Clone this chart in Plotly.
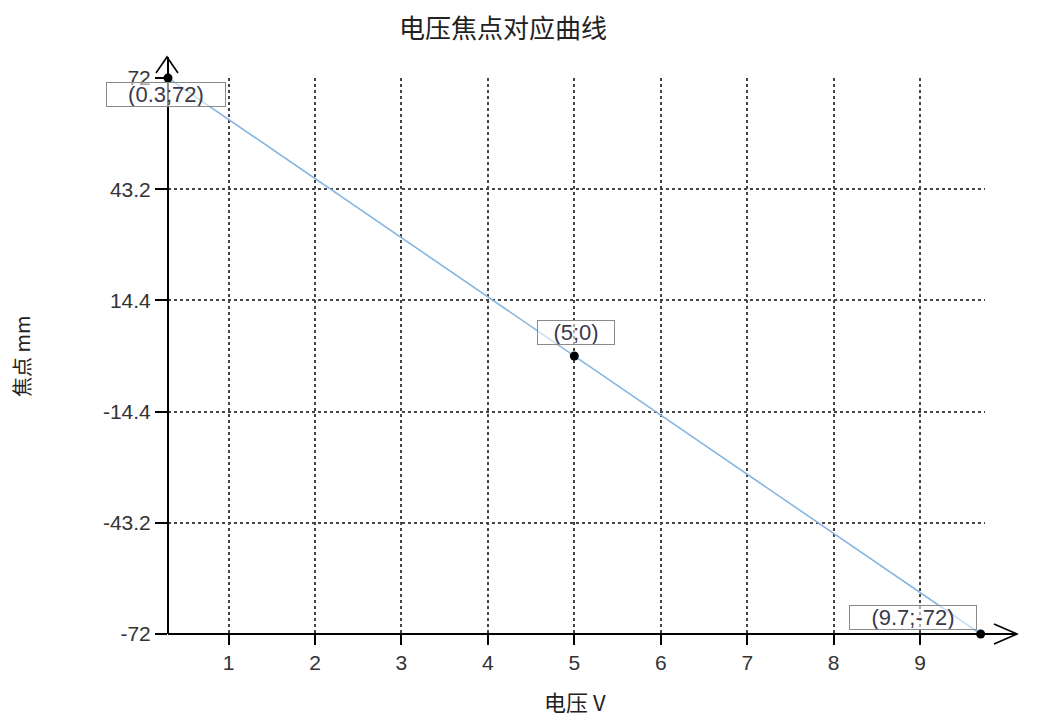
import plotly.graph_objects as go

# ---- data ----
voltage = [0.3, 5, 9.7]
focus = [72, 0, -72]
point_labels = ["(0.3;72)", "(5;0)", "(9.7;-72)"]
x_ticks = [1, 2, 3, 4, 5, 6, 7, 8, 9]
y_ticks = [72, 43.2, 14.4, -14.4, -43.2, -72]
y_tick_text = ["72", "43.2", "14.4", "-14.4", "-43.2", "-72"]

OFF = 8  # page body margin
W, H = 1043 - OFF, 722 - OFF
L, T = 168 - OFF, 78 - OFF
R = W - (985 - OFF)
B = H - (634 - OFF)
PW, PH = W - L - R, H - T - B


def px(xp):
    return (xp - OFF - L) / PW


def py(yp):
    return (H - B - (yp - OFF)) / PH


fig = go.Figure()
fig.add_trace(go.Scatter(
    x=voltage, y=focus, mode="lines+markers",
    line=dict(color="#86b6e0", width=1.6),
    marker=dict(color="black", size=9),
    cliponaxis=False, showlegend=False, hoverinfo="x+y",
))

font_main = "Liberation Sans, Arial, sans-serif"
font_cjk = "Noto Sans CJK SC, sans-serif"

# point labels
label_style = [
    dict(xanchor="center", yanchor="top", xshift=-2, yshift=-4, width=118),
    dict(xanchor="center", yanchor="bottom", xshift=2, yshift=11, width=76),
    dict(xanchor="right", yanchor="bottom", xshift=-4, yshift=4, width=126),
]
for xv, yv, txt, st in zip(voltage, focus, point_labels, label_style):
    fig.add_annotation(
        x=xv, y=yv, xref="x", yref="y", text=txt, showarrow=False,
        font=dict(family=font_main, size=22, color="#3a3a4a"),
        bgcolor="rgba(255,255,255,0.55)", bordercolor="#8a8a8a",
        borderwidth=1, borderpad=0, height=23, **st,
    )

# axis titles
fig.add_annotation(x=px(575), y=py(701), xref="paper", yref="paper",
                   xanchor="center", yanchor="middle",
                   text="电压 V", showarrow=False,
                   font=dict(family=font_cjk, size=22, color="#222"))
fig.add_annotation(x=px(21), y=py(356), xref="paper", yref="paper",
                   xanchor="center", yanchor="middle",
                   text="焦点 mm", showarrow=False, textangle=-90,
                   font=dict(family=font_cjk, size=20, color="#222"))

# axis lines with open arrowheads
ax_line = dict(color="black", width=2)
fig.add_shape(type="line", xref="paper", yref="paper",
              x0=0, y0=0, x1=0, y1=py(57), line=ax_line)
fig.add_shape(type="line", xref="paper", yref="paper",
              x0=0, y0=0, x1=px(1017), y1=0, line=ax_line)
fig.add_shape(type="path", xref="paper", yref="paper",
              path=f"M{px(156)},{py(73)} L{px(167)},{py(57)} L{px(178)},{py(73)}",
              line=dict(color="black", width=1.6))
fig.add_shape(type="path", xref="paper", yref="paper",
              path=f"M{px(994)},{py(624)} L{px(1017)},{py(634)} L{px(994)},{py(644)}",
              line=dict(color="black", width=1.6))

fig.update_layout(
    width=W, height=H,
    margin=dict(l=L, r=R, t=T, b=B, autoexpand=False),
    paper_bgcolor="white", plot_bgcolor="white",
    title=dict(text="电压焦点对应曲线", x=(503 - OFF) / W, y=1 - (29 - OFF) / H,
               xanchor="center", yanchor="middle",
               font=dict(family=font_cjk, size=26, color="#222")),
    showlegend=False,
)
fig.update_xaxes(
    range=[0.3, 9.75], tickvals=x_ticks, ticks="outside", ticklen=10,
    tickwidth=1.5, tickcolor="black",
    showgrid=True, gridcolor="#444", griddash="dot", gridwidth=1.5,
    zeroline=False, showline=False,
    tickfont=dict(family=font_main, size=21, color="#333"),
)
fig.update_yaxes(
    range=[-72, 72], tickvals=y_ticks, ticktext=y_tick_text,
    ticks="outside", ticklen=12, tickwidth=1.5, tickcolor="black",
    showgrid=True, gridcolor="#444", griddash="dot", gridwidth=1.5,
    zeroline=False, showline=False,
    tickfont=dict(family=font_main, size=21, color="#333"),
)

fig.write_html("out.html")
